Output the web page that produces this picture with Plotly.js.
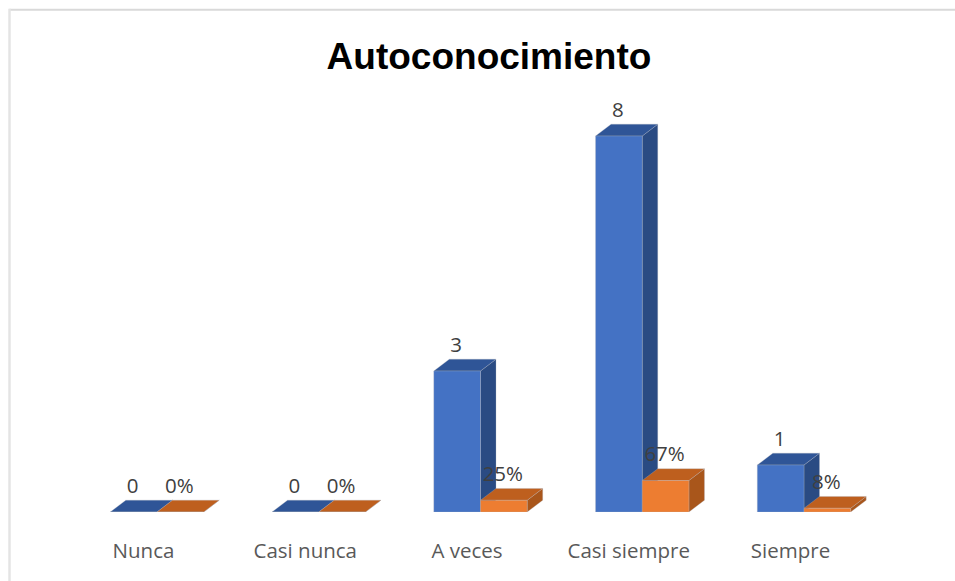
<!DOCTYPE html>
<html>
<head>
<meta charset="utf-8">
<script src="https://cdn.plot.ly/plotly-3.0.1.min.js"></script>
<style>html,body{margin:0;padding:0;background:#fff;overflow:hidden}#chart{width:955px;height:581px}</style>
</head>
<body>
<div id="chart"></div>
<script>
const categories = ["Nunca", "Casi nunca", "A veces", "Casi siempre", "Siempre"];
const counts = [0, 0, 3, 8, 1];
const shares = [0, 0, 0.25, 0.67, 0.08];
const shareLabels = ["0%", "0%", "25%", "67%", "8%"];

const W = 955, H = 581, BASE = 512;
const pxPerCat = 161.75, pxPerUnit = 47, originX = 157;
const barW = 46.7 / pxPerCat, depthX = 15.5 / pxPerCat, depthY = 11.8 / pxPerUnit;
const labelLift = 24.2 / pxPerUnit, labelShift = -1 / pxPerCat, tickShift = -13.5 / pxPerCat;

function polys(vals, x0Fn, shape) {
  const xs = [], ys = [];
  vals.forEach((v, i) => {
    const p = shape(x0Fn(i), v);
    p.forEach(q => { xs.push(q[0]); ys.push(q[1]); });
    xs.push(p[0][0]); ys.push(p[0][1]);
    xs.push(null); ys.push(null);
  });
  return {xs, ys};
}
const front = (x, v) => [[x, 0], [x + barW, 0], [x + barW, v], [x, v]];
const top_ = (x, v) => [[x, v], [x + barW, v], [x + barW + depthX, v + depthY], [x + depthX, v + depthY]];
const side = (x, v) => [[x + barW, 0], [x + barW + depthX, depthY], [x + barW + depthX, v + depthY], [x + barW, v]];

function face(vals, x0Fn, shape, color, edge) {
  const p = polys(vals, x0Fn, shape);
  return {type: "scatter", mode: "lines", x: p.xs, y: p.ys, fill: "toself", fillcolor: color,
    line: {width: 1, color: edge}, hoverinfo: "skip", showlegend: false, cliponaxis: false};
}
const blueX = i => i - barW, orangeX = i => i;
const edge = "rgba(175,180,190,0.3)";
const labelFont = {family: "Open Sans, sans-serif", size: 20.5, color: "#404040"};
const traces = [
  face(counts, blueX, side, "#2A4B83", edge),
  face(counts, blueX, top_, "#2F5597", edge),
  face(counts, blueX, front, "#4472C4", edge),
  face(shares, orangeX, side, "#A9561B", edge),
  face(shares, orangeX, top_, "#BE5F1E", edge),
  face(shares, orangeX, front, "#ED7D31", edge),
  {type: "scatter", mode: "text", x: categories.map((c, i) => blueX(i) + barW / 2 + labelShift),
   y: counts.map(v => v + labelLift), text: counts.map(String), textposition: "middle center",
   textfont: labelFont, hoverinfo: "skip", showlegend: false, cliponaxis: false},
  {type: "scatter", mode: "text", x: categories.map((c, i) => orangeX(i) + barW / 2 + labelShift),
   y: shares.map(v => v + labelLift), text: shareLabels, textposition: "middle center",
   textfont: labelFont, hoverinfo: "skip", showlegend: false, cliponaxis: false}
];
const layout = {
  width: W, height: H,
  margin: {l: 0, r: 0, t: 0, b: H - BASE, pad: 0},
  paper_bgcolor: "#fff", plot_bgcolor: "rgba(0,0,0,0)",
  title: {text: "<b>Autoconocimiento</b>", x: 489 / W, xanchor: "center", y: 1 - 56 / H, yanchor: "middle",
          font: {family: "Liberation Sans, Arial, sans-serif", size: 37, color: "#000"}},
  xaxis: {range: [-originX / pxPerCat, (W - originX) / pxPerCat], tickmode: "array",
          tickvals: categories.map((c, i) => i + tickShift), ticktext: categories,
          showgrid: false, zeroline: false, showline: false, ticks: "", ticklabelstandoff: 24,
          tickfont: {family: "Open Sans, sans-serif", size: 20.5, color: "#595959"}, fixedrange: true},
  yaxis: {range: [0, BASE / pxPerUnit], visible: false, fixedrange: true},
  shapes: [
    {type: "line", xref: "paper", yref: "paper", x0: 9.5 / W, x1: 1, y0: 1 - 11 / H, y1: 1 - 11 / H, line: {color: "#D9D9D9", width: 2}},
    {type: "line", xref: "paper", yref: "paper", x0: 9.5 / W, x1: 9.5 / W, y0: 1 - 10 / H, y1: -0.2, line: {color: "#E4E4E4", width: 2.5}}
  ],
  showlegend: false
};
Plotly.newPlot("chart", traces, layout, {displayModeBar: false, staticPlot: true});
</script>
</body>
</html>
